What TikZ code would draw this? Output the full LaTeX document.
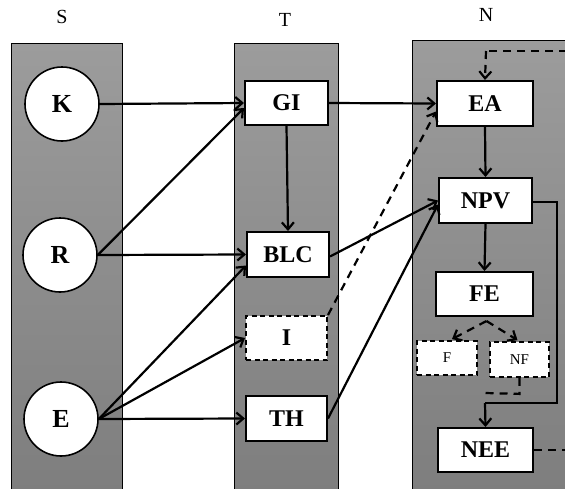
\documentclass[tikz,border=0pt]{standalone}
\usepackage{fontspec}
\setmainfont{Liberation Serif}
\usetikzlibrary{arrows.meta,calc}
\definecolor{gtop}{HTML}{9C9C9C}
\definecolor{gbot}{HTML}{7E7E7E}
\tikzset{
  col/.style={top color=gtop, bottom color=gbot, draw=black, line width=1pt},
  circ/.style={circle, draw, fill=white, line width=1.6pt, minimum size=74pt, inner sep=0pt, font=\fontsize{26}{28}\selectfont\bfseries},
  bx/.style={draw, fill=white, line width=2pt, inner sep=0pt, minimum height=44pt, font=\fontsize{24}{26}\selectfont\bfseries},
  dbx/.style={bx, dash pattern=on 5pt off 3.5pt},
  sbx/.style={draw, fill=white, line width=1.8pt, dash pattern=on 5pt off 3.5pt, inner sep=0pt, font=\fontsize{15}{17}\selectfont},
  lab/.style={font=\fontsize{20}{22}\selectfont},
  ar/.style={line width=2.2pt, -{Straight Barb[length=7pt,width=12pt,line width=2.2pt]}},
  ln/.style={line width=2.2pt},
  dar/.style={ar, dash pattern=on 8pt off 6pt},
  dln/.style={ln, dash pattern=on 8pt off 6pt}
}
\begin{document}
\begin{tikzpicture}[x=1pt,y=-1pt]
\useasboundingbox (0,0) rectangle (565,488);
\clip (0,0) rectangle (565,488);
% columns
\shade[col] (11,43) rectangle (122,492);
\shade[col] (234,43) rectangle (338,492);
\shade[col] (412,40) rectangle (575,492);
\node[lab] (lS) at (62,17) {S};
\node[lab] (lT) at (285,20) {T};
\node[lab] (lN) at (486,15) {N};
% S nodes
\node[circ] (K) at (62,104) {K};
\node[circ] (R) at (60,255) {R};
\node[circ] (E) at (61,419) {E};
% T nodes
\node[bx, minimum width=83pt] (GI) at (286.5,103) {GI};
\node[bx, minimum width=82pt, minimum height=45pt] (BLC) at (288,254.5) {BLC};
\node[dbx, minimum width=81pt] (I) at (286.5,338) {I};
\node[bx, minimum width=81pt, minimum height=45pt] (TH) at (286.5,418.5) {TH};
% N nodes
\node[bx, minimum width=96pt, minimum height=45pt] (EA) at (485,103.5) {EA};
\node[bx, minimum width=93pt, minimum height=45pt] (NPV) at (485.5,200.5) {NPV};
\node[bx, minimum width=97pt] (FE) at (484.5,294) {FE};
\node[sbx, minimum width=60pt, minimum height=34pt] (F) at (447,358) {F};
\node[sbx, minimum width=59pt, minimum height=35pt] (NF) at (519.5,359.5) {NF};
\node[bx, minimum width=95pt] (NEE) at (485.5,450) {NEE};
% helper coordinates
\coordinate (fork) at ($(FE.south)+(2,4)$);
\coordinate (c2) at (557,403);
\coordinate (c3) at (485,403);
\coordinate (n1) at ($(NF.south)+(0,16)$);
\coordinate (n2) at (485,393);
\coordinate (t1) at (575,450);
\coordinate (t2) at (575,51);
\coordinate (t3) at (486,51);
% edges
\draw[ar] (K.east) -- (GI.west);
\draw[ar] (R.east) -- ($(GI.west)+(0,5)$);
\draw[ar] (R.east) -- (BLC.west);
\draw[ar] (GI.south) -- (BLC.north);
\draw[ar] (E.east) -- ($(BLC.west)+(0,11)$);
\draw[ar] (E.east) -- (I.west);
\draw[ar] (E.east) -- (TH.west);
\draw[ar] (GI.east) -- (EA.west);
\draw[ar] ($(BLC.east)+(0,2)$) -- ($(NPV.west)+(0,0)$);
\draw[ar] (TH.east) -- ($(NPV.west)+(0,4)$);
\draw[dar] (I.north east) -- ($(EA.west)+(0,8)$);
\draw[ar] (EA.south) -- (NPV.north);
\draw[ar] (NPV.south) -- (FE.north);
\draw[ln] ($(NPV.east)+(0,1.5)$) -| (c2) -- (c3);
\draw[ar] (c3) -- (NEE.north);
\draw[dar] (fork) -- ($(F.north)+(5,-1)$);
\draw[dar] (fork) -- ($(NF.north)+(-2,-1)$);
\draw[dln] (NF.south) -- (n1) -- (n2);
\draw[dln] (NEE.east) -- (t1) -- (t2) -- (t3);
\draw[dar] (t3) -- (EA.north);
\end{tikzpicture}
\end{document}
